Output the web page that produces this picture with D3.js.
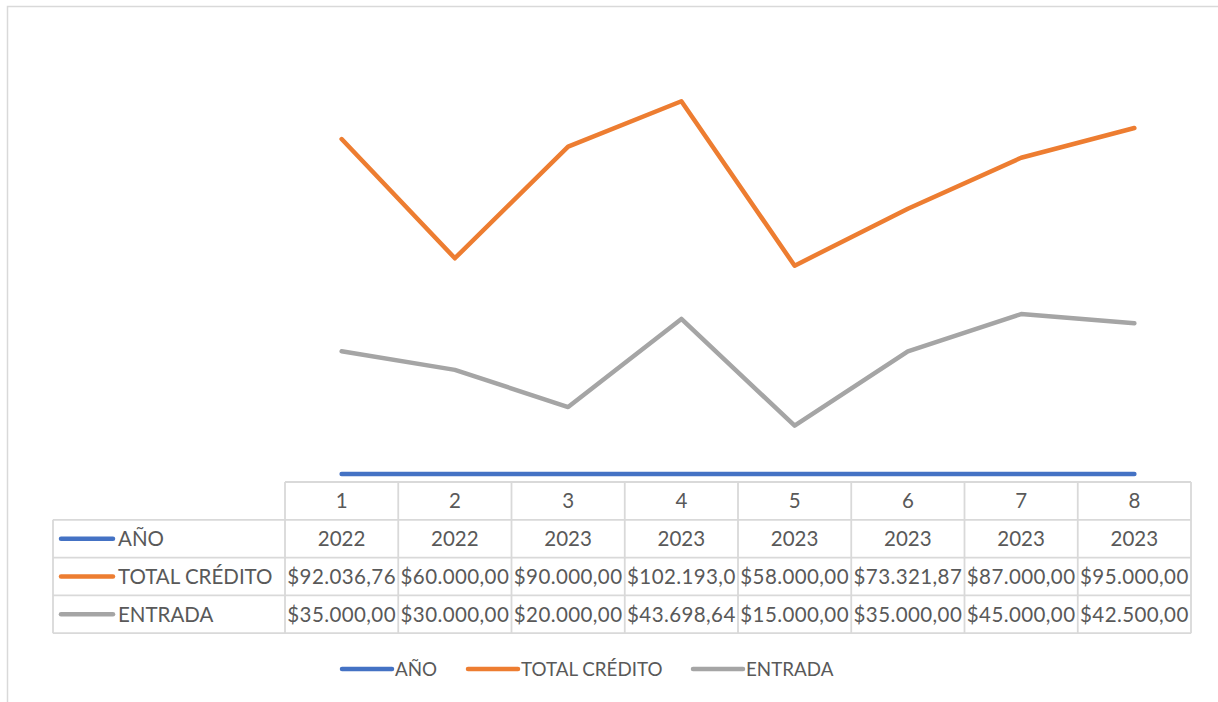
<!DOCTYPE html>
<html><head><meta charset="utf-8">
<script src="https://cdn.jsdelivr.net/npm/d3@7"></script>
<style>html,body{margin:0;padding:0;background:#fff;}svg{display:block;}</style>
</head><body>
<svg id="c" width="1218" height="702"></svg>
<script>
const categories = ["1","2","3","4","5","6","7","8"];
const seriesNames = ["AÑO","TOTAL CRÉDITO","ENTRADA"];
const anio = [2022,2022,2023,2023,2023,2023,2023,2023];
const totalCredito = [92036.76,60000,90000,102193,58000,73321.87,87000,95000];
const entrada = [35000,30000,20000,43698.64,15000,35000,45000,42500];
const anioLabels = ["2022","2022","2023","2023","2023","2023","2023","2023"];
const totalLabels = ["$92.036,76","$60.000,00","$90.000,00","$102.193,0","$58.000,00","$73.321,87","$87.000,00","$95.000,00"];
const entradaLabels = ["$35.000,00","$30.000,00","$20.000,00","$43.698,64","$15.000,00","$35.000,00","$45.000,00","$42.500,00"];
const colors = ["#4472C4","#ED7D31","#A5A5A5"];

const svg = d3.select("#c");
const font = "Lato, 'Open Sans', sans-serif";
const textCol = "#595959";
const gridCol = "#d9d9d9";

// outer chart border (cropped at right/bottom)
svg.append("rect").attr("x",7.5).attr("y",6.5).attr("width",1240).attr("height",720)
  .attr("fill","none").attr("stroke",gridCol).attr("stroke-width",1.5);

const x = d3.scaleBand().domain(categories).range([285,1191]);
const y = d3.scaleLinear().domain([0,120000]).range([481.5,35]);

const series = [anio,totalCredito,entrada];
const line = d3.line().x((d,i)=>x(categories[i])+x.bandwidth()/2).y(d=>y(d));
series.forEach((s,k)=>{
  svg.append("path").datum(s).attr("d",line).attr("fill","none")
    .attr("stroke",colors[k]).attr("stroke-width",4.5)
    .attr("stroke-linecap","round").attr("stroke-linejoin","round");
});

// data table
const rowTop = 482, rowH = 37.8;
const tableLeft = 53;
const tfs = 20.5;
const g = svg.append("g");
const gl = (x1,y1,x2,y2)=>g.append("line").attr("x1",x1).attr("y1",y1).attr("x2",x2).attr("y2",y2)
  .attr("stroke",gridCol).attr("stroke-width",1.8);
gl(x.range()[0], rowTop, x.range()[1], rowTop);
for(let r=1;r<=4;r++) gl(tableLeft, rowTop+r*rowH, x.range()[1], rowTop+r*rowH);
gl(tableLeft, rowTop+rowH, tableLeft, rowTop+4*rowH);
categories.forEach(c=>gl(x(c), rowTop, x(c), rowTop+4*rowH));
gl(x.range()[1], rowTop, x.range()[1], rowTop+4*rowH);

const rows = [categories, anioLabels, totalLabels, entradaLabels];
rows.forEach((vals,r)=>{
  vals.forEach((v,i)=>{
    g.append("text").attr("x",x(categories[i])+x.bandwidth()/2).attr("y",rowTop+r*rowH+rowH/2)
      .attr("dy","0.36em").attr("text-anchor","middle")
      .attr("font-family",font).attr("font-size",tfs).attr("fill",textCol)
      .attr("letter-spacing", r>=2 ? 0.4 : 0).text(v);
  });
});
seriesNames.forEach((n,k)=>{
  const cy = rowTop+(k+1)*rowH+rowH/2;
  g.append("line").attr("x1",61).attr("x2",113).attr("y1",cy).attr("y2",cy)
    .attr("stroke",colors[k]).attr("stroke-width",4.5).attr("stroke-linecap","round");
  g.append("text").attr("x",118).attr("y",cy).attr("dy","0.36em")
    .attr("font-family",font).attr("font-size",tfs).attr("fill",textCol).text(n);
});

// legend
const legX = [342,468,693];
seriesNames.forEach((n,k)=>{
  const ly = 669;
  svg.append("line").attr("x1",legX[k]).attr("x2",legX[k]+50).attr("y1",ly).attr("y2",ly)
    .attr("stroke",colors[k]).attr("stroke-width",4.5).attr("stroke-linecap","round");
  svg.append("text").attr("x",legX[k]+53).attr("y",ly).attr("dy","0.36em")
    .attr("font-family",font).attr("font-size",18.8).attr("fill",textCol).text(n);
});
</script>
</body></html>
